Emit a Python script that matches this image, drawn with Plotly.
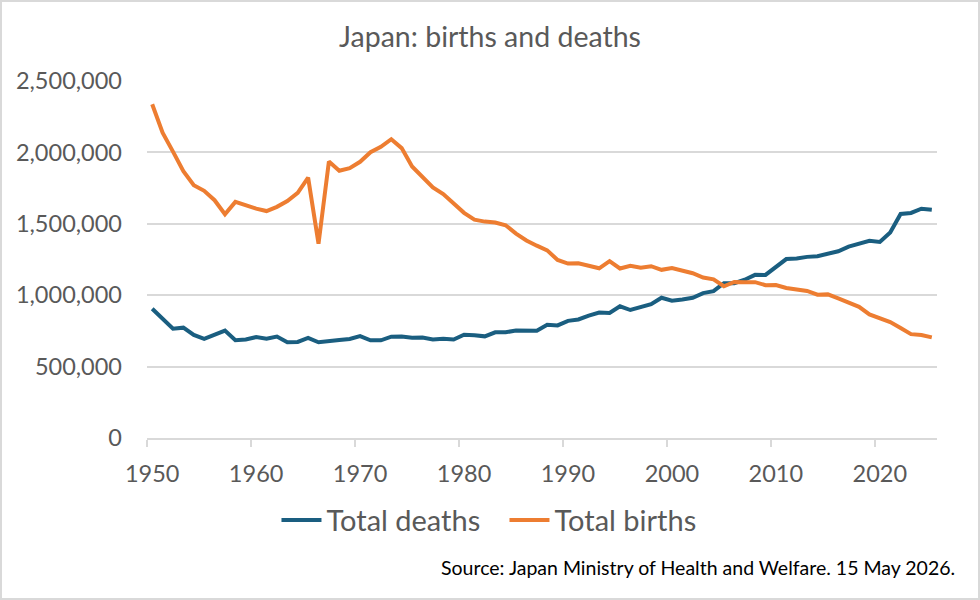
import plotly.graph_objects as go

years = list(range(1950, 2026))

total_deaths = [
    904876, 838998, 765068, 772547, 721491, 693523, 724460, 752445, 684189, 689959,
    706599, 695644, 710265, 670770, 673067, 700438, 670342, 675006, 686555, 693787,
    712962, 684521, 683751, 709416, 710510, 702275, 703270, 690074, 695821, 689664,
    722801, 720262, 711883, 740038, 740247, 752283, 750620, 751172, 793014, 788594,
    820305, 829797, 856643, 878532, 875933, 922139, 896211, 913402, 936484, 982031,
    961653, 970331, 982379, 1014951, 1028602, 1083796, 1084450, 1108334, 1142407, 1141865,
    1197012, 1253066, 1256359, 1268436, 1273004, 1290444, 1307748, 1340567, 1362470, 1381093,
    1372755, 1439856, 1569050, 1576016, 1605298, 1598000,
]

total_births = [
    2337507, 2137689, 2005162, 1868040, 1769580, 1730692, 1665278, 1566713, 1653469, 1626088,
    1606041, 1589372, 1618616, 1659521, 1716761, 1823697, 1360974, 1935647, 1871839, 1889815,
    1934239, 2000973, 2038682, 2091983, 2029989, 1901440, 1832617, 1755100, 1708643, 1642580,
    1576889, 1529455, 1515392, 1508687, 1489780, 1431577, 1382946, 1346658, 1314006, 1246802,
    1221585, 1223245, 1208989, 1188282, 1238328, 1187064, 1206555, 1191665, 1203147, 1177669,
    1190547, 1170662, 1153855, 1123610, 1110721, 1062530, 1092674, 1089818, 1091156, 1070036,
    1071304, 1050806, 1037231, 1029816, 1003539, 1005721, 977242, 946146, 918400, 865239,
    840835, 811622, 770759, 727288, 720988, 705000,
]

x_labels = list(range(1950, 2030, 10))
y_ticks = [0, 500000, 1000000, 1500000, 2000000, 2500000]

FONT = "Lato"
GREY = "#595959"

fig = go.Figure()
fig.add_trace(go.Scatter(x=years, y=total_deaths, name="Total deaths", mode="lines",
                         line=dict(color="#1a5e80", width=4)))
fig.add_trace(go.Scatter(x=years, y=total_births, name="Total births", mode="lines",
                         line=dict(color="#ed7d31", width=4)))

fig.update_layout(
    width=980, height=600,
    margin=dict(l=147, r=43, t=81, b=162),
    paper_bgcolor="white", plot_bgcolor="white",
    font=dict(family=FONT, color=GREY, size=23.5),
    title=dict(text="Japan: births and deaths", x=0.5, xanchor="center",
               y=1 - 37 / 600, yanchor="middle", font=dict(size=28.5, color=GREY)),
    showlegend=True,
    legend=dict(orientation="h", x=0.4525, xanchor="center", y=-0.23, yanchor="middle",
                font=dict(size=29, color=GREY), itemwidth=40, traceorder="normal",
                entrywidth=173),
    hovermode=False,
)

fig.update_xaxes(
    range=[1949.5, 2025.5], tickvals=x_labels, ticks="", showgrid=False,
    showline=True, linecolor="#d9d9d9", linewidth=1.5,
    minor=dict(tick0=1949.5, dtick=10, ticks="outside", ticklen=7,
               tickcolor="#d9d9d9", tickwidth=1.5, showgrid=False),
    ticklabelstandoff=14, zeroline=False,
)
fig.update_yaxes(
    range=[0, 2500000], tickvals=y_ticks, tickformat=",", showgrid=True,
    gridcolor="#d9d9d9", gridwidth=1.5, zeroline=False, showline=False,
    ticklabelstandoff=24,
)

fig.add_annotation(text="Source: Japan Ministry of Health and Welfare. 15 May 2026.",
                   xref="paper", yref="paper", x=(957 - 147) / 790, xanchor="right",
                   y=-(567 - 438) / 357, yanchor="middle", showarrow=False,
                   font=dict(size=19.5, color="#000000", family=FONT))

# light frame round the whole picture
fig.add_shape(type="rect", xref="paper", yref="paper",
              x0=-146 / 790, x1=1 + 42 / 790, y0=-161 / 357, y1=1 + 80 / 357,
              line=dict(color="#d9d9d9", width=2), layer="below")

# page body has a default 8px margin, drop it so the figure sits at 0,0
fig.write_html("out.html", config={"displayModeBar": False},
               post_script="document.body.style.margin='0';")
